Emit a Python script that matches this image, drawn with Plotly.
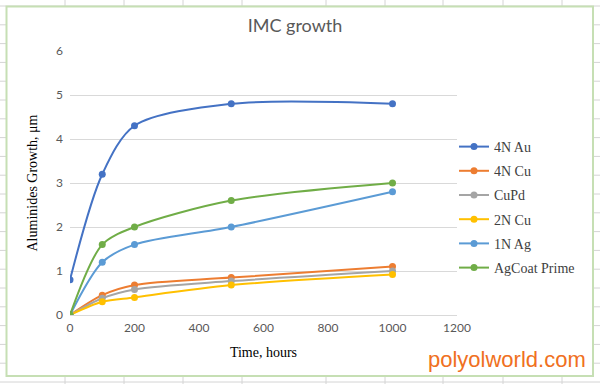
import plotly.graph_objects as go

hours = [0, 100, 200, 500, 1000]
series_names = ["4N Au", "4N Cu", "CuPd", "2N Cu", "1N Ag", "AgCoat Prime"]
au_4n = [0.8, 3.2, 4.3, 4.8, 4.8]
cu_4n = [0.0, 0.45, 0.68, 0.85, 1.1]
cupd = [0.0, 0.38, 0.58, 0.77, 1.0]
cu_2n = [0.0, 0.3, 0.4, 0.68, 0.92]
ag_1n = [0.0, 1.2, 1.6, 2.0, 2.8]
agcoat = [0.0, 1.6, 2.0, 2.6, 3.0]
colors = ["#4472C4", "#ED7D31", "#A5A5A5", "#FFC000", "#5B9BD5", "#70AD47"]
all_values = [au_4n, cu_4n, cupd, cu_2n, ag_1n, agcoat]

W, H = 600, 384
L, R, T, B = 70, 457, 51, 315


def px(x):
    return (x - L) / (R - L)


def py(y):
    return (B - y) / (B - T)


fig = go.Figure()
for name, vals, c in zip(series_names, all_values, colors):
    fig.add_trace(go.Scatter(
        x=hours, y=vals, name=name, mode="lines+markers", legendgroup=name,
        line=dict(color=c, width=2, shape="spline", smoothing=0.85),
        marker=dict(color=c, size=7),
    ))

shapes = []
# spreadsheet background grid
for cx in [65, 124, 183, 242, 326, 385, 443, 503, 562]:
    shapes.append(dict(type="line", xref="paper", yref="paper",
                       x0=px(cx), x1=px(cx), y0=py(0), y1=py(H),
                       line=dict(color="#D4D4D4", width=1), layer="below"))
ry = 6.0
while ry < H:
    shapes.append(dict(type="line", xref="paper", yref="paper",
                       x0=px(0), x1=px(W), y0=py(ry), y1=py(ry),
                       line=dict(color="#D4D4D4", width=1), layer="below"))
    ry += 18.8
# chart area
shapes.append(dict(type="rect", xref="paper", yref="paper",
                   x0=px(6.5), x1=px(593), y0=py(6.5), y1=py(376),
                   fillcolor="white", line=dict(color="#C6DFB4", width=2), layer="below"))
fig.update_layout(shapes=shapes)

fig.update_layout(
    width=W, height=H,
    margin=dict(l=L, r=W - R, t=T, b=H - B, autoexpand=False),
    paper_bgcolor="white",
    plot_bgcolor="rgba(0,0,0,0)",
    title=dict(text="IMC growth", x=295 / W, xref="container", y=1 - 26 / H, yanchor="middle",
               xanchor="center",
               font=dict(family="Lato", size=18, color="#595959")),
    showlegend=True,
    legend=dict(x=px(454), y=py(131), xanchor="left", yanchor="top",
                bgcolor="rgba(0,0,0,0)",
                font=dict(family="Liberation Serif", size=14, color="#404040"),
                tracegroupgap=3, itemwidth=30),
    annotations=[
        dict(text="polyolworld.com", xref="paper", yref="paper",
             x=px(588), y=py(359), xanchor="right", yanchor="middle", showarrow=False,
             font=dict(family="Liberation Sans", size=22, color="#F07021")),
    ],
)

fig.update_xaxes(
    range=[0, 1200], tickvals=[0, 200, 400, 600, 800, 1000, 1200], automargin=False,
    showgrid=False, zeroline=False, showline=True, linecolor="#D9D9D9", linewidth=1,
    tickfont=dict(family="Lato", size=12, color="#595959"), ticks="", ticklabelstandoff=2,
    title=dict(text="Time, hours", standoff=12,
               font=dict(family="Liberation Serif", size=14, color="black")),
)
fig.update_yaxes(
    range=[0, 6], tickvals=[0, 1, 2, 3, 4, 5, 6], automargin=False,
    showgrid=True, gridcolor="#D9D9D9", gridwidth=1, zeroline=False, showline=False,
    tickfont=dict(family="Lato", size=12, color="#595959"), ticks="", ticklabelstandoff=6,
    title=dict(text="Aluminides Growth, μm", standoff=15,
               font=dict(family="Liberation Serif", size=14, color="black")),
)

fig.write_html("out.html", config={"displayModeBar": False},
               post_script="document.body.style.margin='0';")
